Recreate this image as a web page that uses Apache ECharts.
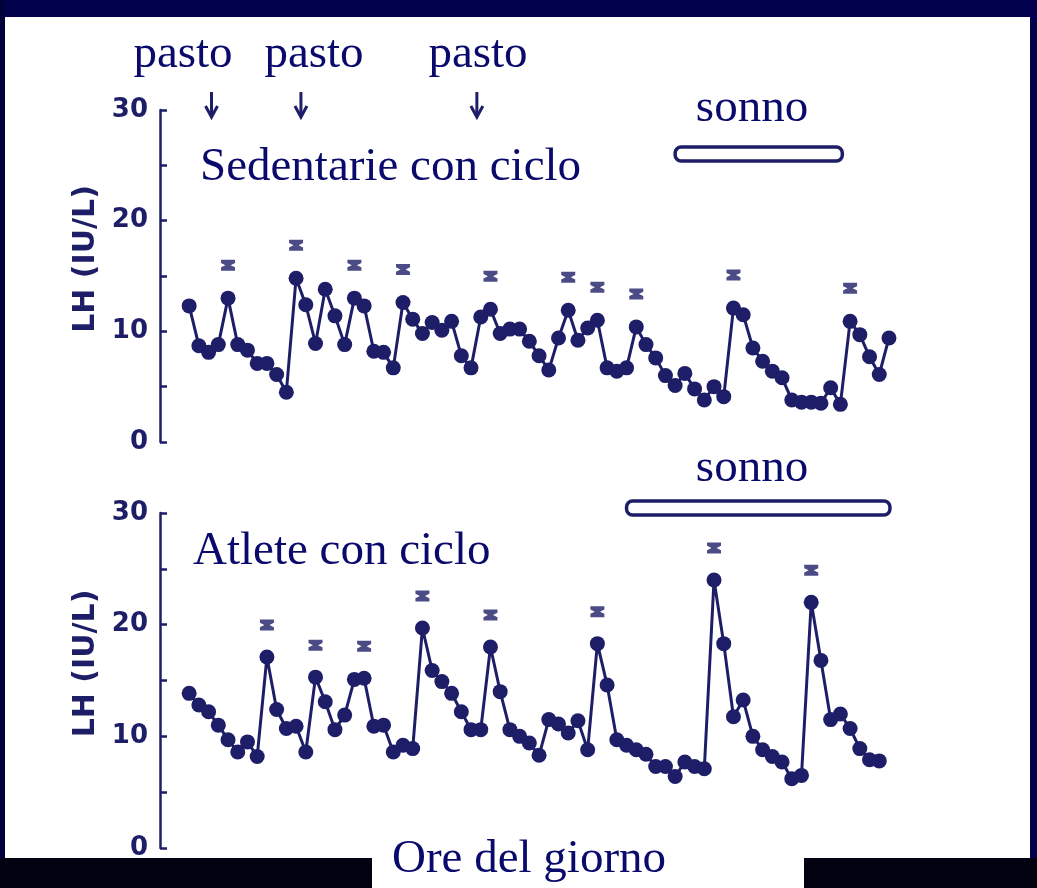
<!DOCTYPE html>
<html><head><meta charset="utf-8">
<script src="https://cdn.jsdelivr.net/npm/echarts@6/dist/echarts.min.js"></script>
<style>html,body{margin:0;padding:0;background:#fff}#c{width:1037px;height:888px}</style>
</head><body><div id="c"></div>
<script>
// LH (IU/L), one sample every 20 minutes over 24 hours
const sedentarieLH = [12.3, 8.7, 8.1, 8.8, 13.0, 8.8, 8.3, 7.1, 7.1, 6.1,
  4.5, 14.8, 12.4, 8.9, 13.8, 11.4, 8.8, 13.0, 12.3, 8.2,
  8.1, 6.7, 12.6, 11.1, 9.8, 10.8, 10.1, 10.9, 7.8, 6.7,
  11.3, 12.0, 9.8, 10.2, 10.2, 9.1, 7.8, 6.5, 9.4, 11.9,
  9.2, 10.3, 11.0, 6.7, 6.4, 6.7, 10.4, 8.8, 7.6, 6.0,
  5.1, 6.2, 4.8, 3.8, 5.0, 4.1, 12.1, 11.5, 8.5, 7.3,
  6.4, 5.8, 3.8, 3.6, 3.6, 3.5, 4.9, 3.4, 10.9, 9.7,
  7.7, 6.1, 9.4];
const atleteLH = [13.85, 12.8, 12.2, 11.0, 9.7, 8.6, 9.5, 8.2, 17.1, 12.4,
  10.7, 10.9, 8.6, 15.3, 13.1, 10.6, 11.9, 15.1, 15.2, 10.9,
  11.0, 8.6, 9.2, 8.9, 19.7, 15.9, 14.9, 13.85, 12.2, 10.6,
  10.6, 18.0, 14.0, 10.6, 10.0, 9.4, 8.3, 11.5, 11.1, 10.3,
  11.4, 8.8, 18.3, 14.6, 9.7, 9.2, 8.8, 8.4, 7.3, 7.3,
  6.4, 7.7, 7.3, 7.1, 24.0, 18.3, 11.75, 13.25, 10.0, 8.8,
  8.2, 7.7, 6.2, 6.5, 22.0, 16.8, 11.5, 12.0, 10.7, 8.9,
  7.9, 7.8];
// sample indices of significant pulses (marked with *)
const sedentariePeaks = [4, 11, 17, 22, 31, 39, 42, 46, 56, 68];
const atletePeaks = [8, 13, 18, 24, 31, 42, 54, 64];
// meal times and sleep periods (in sample index units)
const meals = [2.3, 11.5, 29.6];
const sleepSedentarie = [50.0, 67.2];
const sleepAtlete = [45.0, 72.1];
const yMin = 0, yMax = 30, yStep = 10;
const yName = 'LH (IU/L)';

const INK = '#1e1e68';
const TXT = '#0a0a6c';
const chart = echarts.init(document.getElementById('c'));

function yAxisCfg(gi) {
  return {
    type: 'value', gridIndex: gi, min: yMin, max: yMax, interval: yStep,
    name: yName, nameLocation: 'middle', nameGap: 57,
    nameTextStyle: { fontFamily: 'DejaVu Sans', fontWeight: 'bold', fontSize: 30, color: INK, padding: [0, 0, 0, 34] },
    axisLine: { show: true, onZero: false, lineStyle: { color: INK, width: 2.5 } },
    axisTick: { show: true, inside: true, length: 7, lineStyle: { color: INK, width: 2.5 } },
    minorTick: { show: true, splitNumber: 2, length: 7, lineStyle: { color: INK, width: 2.5 } },
    splitLine: { show: false },
    axisLabel: { fontFamily: 'DejaVu Sans', fontWeight: 'bold', fontSize: 26, color: INK, margin: 12 }
  };
}
function xAxisCfg(gi) {
  return { type: 'value', gridIndex: gi, min: -3, max: 73, show: false };
}
function lineSeries(gi, vals) {
  return {
    type: 'line', xAxisIndex: gi, yAxisIndex: gi,
    data: vals.map((v, i) => [i, v]),
    symbol: 'circle', symbolSize: 15, showAllSymbol: true,
    lineStyle: { color: INK, width: 3 }, itemStyle: { color: INK },
    silent: true, animation: false
  };
}
const hourglass = 'path://M0,0 L12,0 L12,3 L8.2,5 L12,7 L12,10 L0,10 L0,7 L3.8,5 L0,3 Z';
function peakSeries(gi, vals, peaks, off) {
  return {
    type: 'scatter', xAxisIndex: gi, yAxisIndex: gi,
    data: peaks.map(i => [i, vals[i]]),
    symbol: hourglass, symbolSize: [14, 11], symbolOffset: [0, off],
    itemStyle: { color: INK }, silent: true, animation: false, z: 5
  };
}

chart.setOption({
  backgroundColor: '#ffffff',
  animation: false,
  grid: [
    { left: 160, top: 110, width: 738.7, height: 332 },
    { left: 160, top: 513, width: 738.7, height: 335 }
  ],
  xAxis: [xAxisCfg(0), xAxisCfg(1)],
  yAxis: [yAxisCfg(0), yAxisCfg(1)],
  series: [
    lineSeries(0, sedentarieLH), lineSeries(1, atleteLH),
    peakSeries(0, sedentarieLH, sedentariePeaks, -33),
    peakSeries(1, atleteLH, atletePeaks, -32)
  ]
});

const g = [];
function txt(text, x, y, align) {
  g.push({ type: 'text', x: x, y: y, z: 50, style: { text: text, fill: TXT, font: '47px "Liberation Serif"', align: align || 'center', verticalAlign: 'middle' } });
}
// meal arrows
meals.forEach(m => {
  const px = chart.convertToPixel({ gridIndex: 0 }, [m, 0])[0];
  g.push({ type: 'line', z: 40, shape: { x1: px, y1: 92, x2: px, y2: 116 }, style: { stroke: INK, lineWidth: 3 } });
  g.push({ type: 'polyline', z: 40, shape: { points: [[px - 6, 106], [px, 117], [px + 6, 106]] }, style: { stroke: INK, lineWidth: 3, fill: null } });
});
// sleep bars
function sleepBar(gi, s, y, h) {
  const a = chart.convertToPixel({ gridIndex: gi }, [s[0], 0])[0];
  const b = chart.convertToPixel({ gridIndex: gi }, [s[1], 0])[0];
  g.push({ type: 'rect', z: 40, shape: { x: a, y: y, width: b - a, height: h, r: 6 }, style: { fill: '#fff', stroke: INK, lineWidth: 3.5 } });
}
sleepBar(0, sleepSedentarie, 147, 14);
sleepBar(1, sleepAtlete, 501, 14);
// slide annotations
txt('pasto', 183, 55); txt('pasto', 314, 55); txt('pasto', 478, 55);
txt('sonno', 752, 109);
txt('Sedentarie con ciclo', 200, 168, 'left');
txt('sonno', 752, 469);
txt('Atlete con ciclo', 193, 552, 'left');
// frame
g.push({ type: 'rect', z: 30, shape: { x: 0, y: 0, width: 1037, height: 17 }, style: { fill: '#00004c' } });
g.push({ type: 'rect', z: 30, shape: { x: 0, y: 0, width: 5, height: 888 }, style: { fill: '#00003a' } });
g.push({ type: 'rect', z: 30, shape: { x: 1030, y: 0, width: 7, height: 888 }, style: { fill: '#00004c' } });
g.push({ type: 'rect', z: 30, shape: { x: 0, y: 858, width: 372, height: 30 }, style: { fill: '#020210' } });
g.push({ type: 'rect', z: 30, shape: { x: 804, y: 858, width: 233, height: 30 }, style: { fill: '#020210' } });
txt('Ore del giorno', 529, 860);

chart.setOption({ graphic: g });
</script></body></html>
